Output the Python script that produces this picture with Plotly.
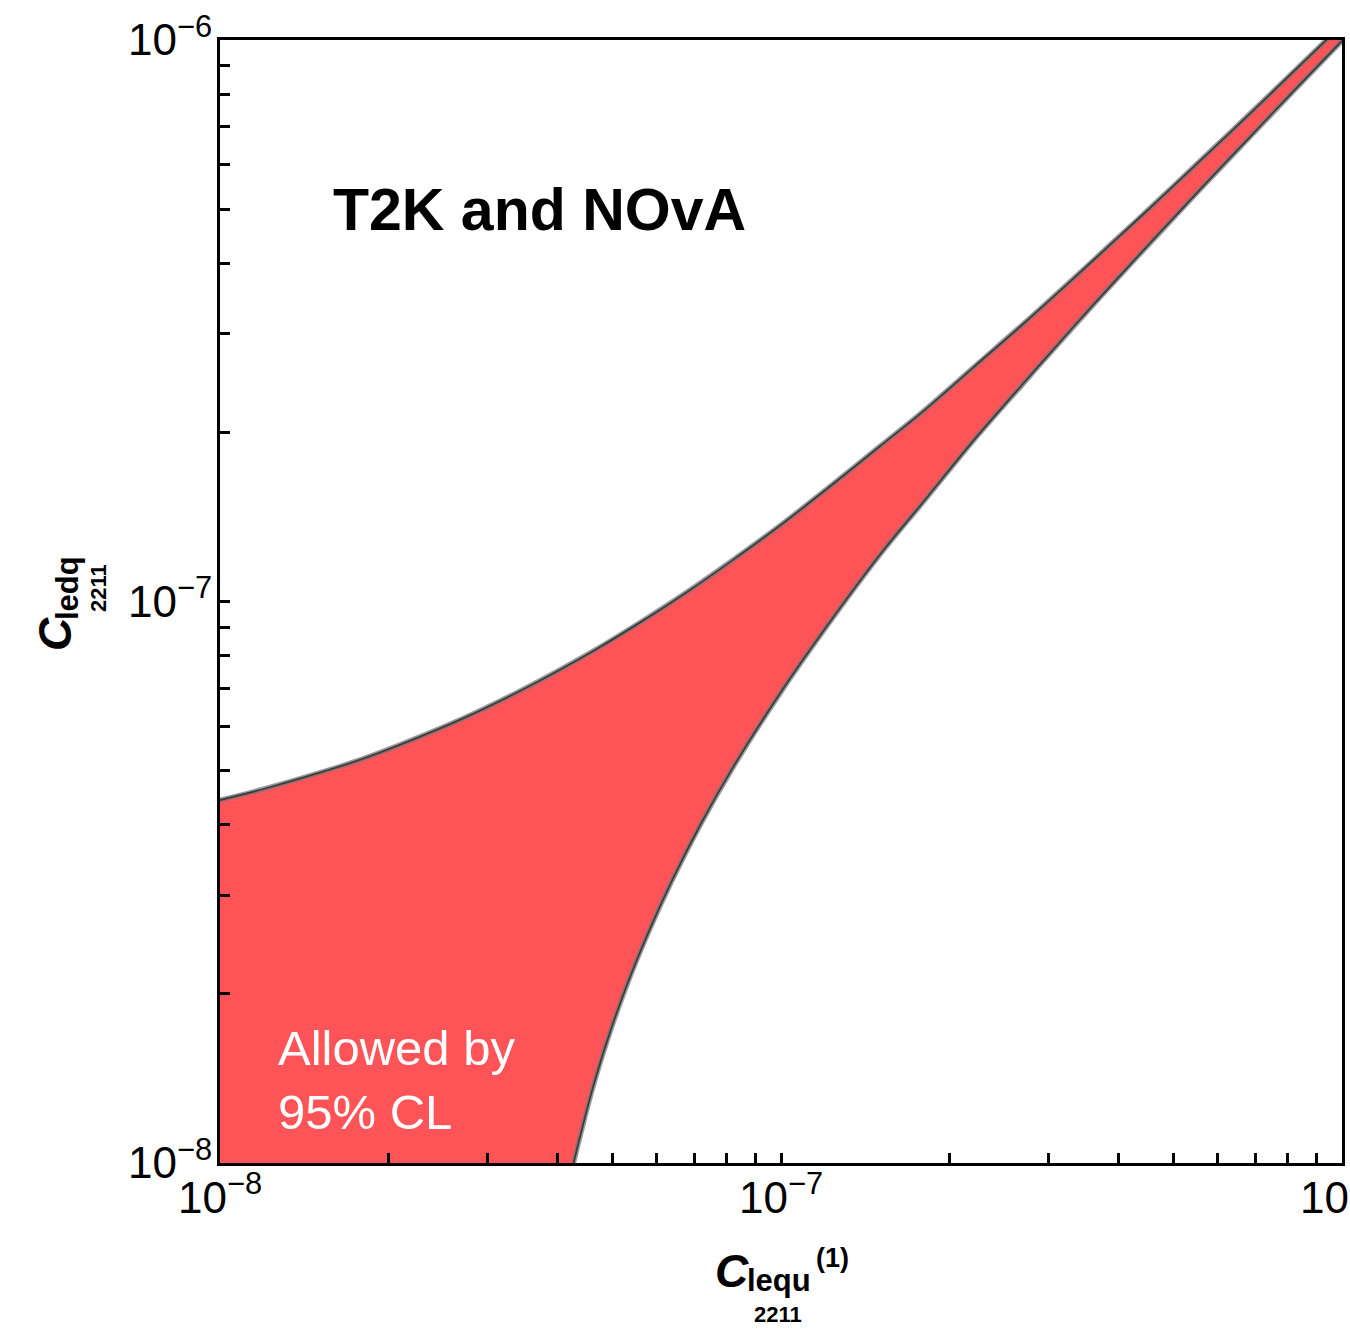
import plotly.graph_objects as go

# Boundary of the 95% CL allowed band (C_lequ^(1), C_ledq), upper edge
upper_x = [1.0e-8, 1.2e-8, 1.5e-8, 1.8e-8, 2.2e-8, 2.7e-8, 3.3e-8, 3.9e-8, 4.7e-8, 5.6e-8,
           6.8e-8, 8.2e-8, 1.0e-7, 1.2e-7, 1.5e-7, 1.8e-7, 2.2e-7, 2.7e-7, 3.3e-7, 3.9e-7,
           4.7e-7, 5.6e-7, 6.8e-7, 8.2e-7, 1.0e-6]
upper_y = [4.43e-8, 4.64e-8, 4.95e-8, 5.25e-8, 5.67e-8, 6.18e-8, 6.80e-8, 7.42e-8, 8.24e-8, 9.17e-8,
           1.040e-7, 1.185e-7, 1.37e-7, 1.58e-7, 1.89e-7, 2.19e-7, 2.61e-7, 3.12e-7, 3.74e-7, 4.36e-7,
           5.18e-7, 6.11e-7, 7.34e-7, 8.79e-7, 1.064e-6]

# lower edge
lower_x = [4.2e-8, 4.3e-8, 4.4e-8, 4.6e-8, 4.9e-8, 5.3e-8, 5.8e-8, 6.4e-8, 7.2e-8, 8.2e-8,
           1.0e-7, 1.2e-7, 1.5e-7, 1.8e-7, 2.2e-7, 2.7e-7, 3.3e-7, 3.9e-7, 4.7e-7, 5.6e-7,
           6.8e-7, 8.2e-7, 1.0e-6]
lower_y = [9.26e-9, 1.03e-8, 1.13e-8, 1.34e-8, 1.65e-8, 2.06e-8, 2.57e-8, 3.19e-8, 4.02e-8, 5.05e-8,
           6.9e-8, 8.96e-8, 1.21e-7, 1.51e-7, 1.93e-7, 2.44e-7, 3.06e-7, 3.68e-7, 4.50e-7, 5.43e-7,
           6.66e-7, 8.11e-7, 9.96e-7]

# closing corner below the lower-left of the frame
corner_x = [1.0e-8]
corner_y = [5.0e-9]

decades = [1e-8, 1e-7, 1e-6]
decade_labels = ["10<sup>\u22128</sup>", "10<sup>\u22127</sup>", "10<sup>\u22126</sup>"]
minor_vals = [d * m for d in decades[:-1] for m in range(2, 10)]

FONT = "Liberation Sans, Arial, Helvetica, sans-serif"
FILL = "#fe5357"

fig = go.Figure()

# filled band
fig.add_trace(go.Scatter(
    x=upper_x + lower_x[::-1] + corner_x,
    y=upper_y + lower_y[::-1] + corner_y,
    mode="lines", fill="toself", fillcolor=FILL,
    line=dict(width=0), hoverinfo="skip", showlegend=False,
))

# edges: soft grey halo under a dark outline
for xs, ys in [(upper_x, upper_y), (lower_x, lower_y)]:
    fig.add_trace(go.Scatter(x=xs, y=ys, mode="lines",
                             line=dict(color="rgba(120,120,120,0.75)", width=5, shape="spline"),
                             hoverinfo="skip", showlegend=False))
    fig.add_trace(go.Scatter(x=xs, y=ys, mode="lines",
                             line=dict(color="#3c3c3c", width=1.8, shape="spline"),
                             hoverinfo="skip", showlegend=False))

axis_common = dict(
    type="log", range=[-8, -6], showgrid=False, zeroline=False,
    showline=True, linecolor="black", linewidth=3, mirror=True,
    ticks="inside", ticklen=10, tickwidth=3, tickcolor="black",
    tickmode="array", tickvals=decades, ticktext=decade_labels,
    minor=dict(tickmode="array", tickvals=minor_vals, ticks="inside",
               ticklen=10, tickwidth=3, tickcolor="black", showgrid=False),
    tickfont=dict(family=FONT, size=44, color="black"),
    automargin=False, ticklabeloverflow="allow",
)

fig.update_xaxes(**axis_common, ticklabelstandoff=-6)
fig.update_yaxes(**axis_common, ticklabelstandoff=-4)

L, R, T, B = 220, 8, 40, 167
W, H = 1350, 1330
PW, PH = W - L - R, H - T - B


def px(x):
    return (x - L) / PW


def py(y):
    return (H - B - y) / PH


annotations = [
    # panel title
    dict(text="<b>T2K and NOvA</b>", x=px(539), y=py(210),
         font=dict(family=FONT, size=59, color="black")),
    # in-band label
    dict(text="Allowed by<br>95% CL", x=px(276), y=py(1080), xanchor="left",
         align="left", font=dict(family=FONT, size=49, color="white")),
    # x-axis title
    dict(text="<b><i>C</i></b>", x=px(732), y=py(1271),
         font=dict(family=FONT, size=46, color="black")),
    dict(text="<b>lequ</b>", x=px(779), y=py(1280),
         font=dict(family=FONT, size=31, color="black")),
    dict(text="<b>(1)</b>", x=px(832), y=py(1258),
         font=dict(family=FONT, size=27, color="black")),
    dict(text="<b>2211</b>", x=px(778), y=py(1314),
         font=dict(family=FONT, size=22, color="black")),
    # y-axis title
    dict(text="<b><i>C</i></b>", x=px(55), y=py(634), textangle=-90,
         font=dict(family=FONT, size=46, color="black")),
    dict(text="<b>ledq</b>", x=px(67), y=py(588), textangle=-90,
         font=dict(family=FONT, size=31, color="black")),
    dict(text="<b>2211</b>", x=px(98), y=py(588), textangle=-90,
         font=dict(family=FONT, size=22, color="black")),
]
for a in annotations:
    a.update(xref="paper", yref="paper", showarrow=False)
    a.setdefault("xanchor", "center")
    a.setdefault("yanchor", "middle")

fig.update_layout(
    width=W, height=H,
    margin=dict(l=L, r=R, t=T, b=B, pad=0),
    paper_bgcolor="white", plot_bgcolor="white",
    annotations=annotations,
    showlegend=False,
)

fig.write_html("out.html")
